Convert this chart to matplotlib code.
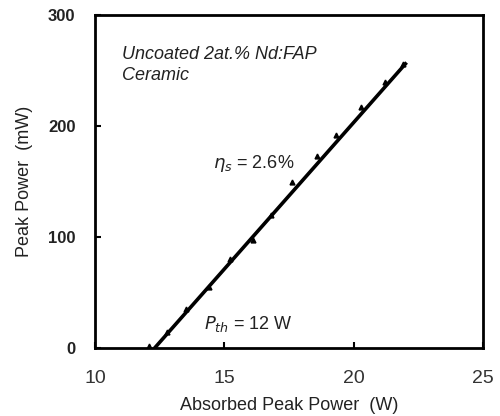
import matplotlib.pyplot as plt

# measured points (absorbed peak power W, peak power mW)
absorbed = [12.1, 12.8, 13.5, 14.4, 15.2, 16.1, 16.8, 17.6, 18.6, 19.3, 20.3, 21.2, 21.9]
peak = [2, 15, 35, 55, 80, 97, 120, 150, 173, 192, 217, 240, 256]

# linear fit endpoints
fit_x = [12.3, 22.0]
fit_y = [0, 256]

xticks = [10, 15, 20, 25]
yticks = [0, 100, 200, 300]

plt.rcParams['font.family'] = ['Liberation Sans', 'DejaVu Sans']

fig = plt.figure(figsize=(5, 4.16), dpi=100)
ax = fig.add_axes([0.19, 0.163, 0.776, 0.801])

ax.plot(fit_x, fit_y, color='black', lw=2.6, zorder=2)
ax.plot(absorbed, peak, linestyle='none', marker='^', ms=3.5, color='black', zorder=3)

ax.set_xlim(10, 25)
ax.set_ylim(0, 300)
ax.set_xticks(xticks)
ax.set_yticks(yticks)
ax.set_xticklabels([str(t) for t in xticks], fontsize=14, color='#333333')
ax.set_yticklabels([str(t) for t in yticks], fontsize=12, fontweight='bold', color='#222222')
ax.tick_params(direction='in', length=4, width=1.5)
ax.tick_params(axis='y', pad=14)
ax.tick_params(axis='x', pad=16)
for s in ax.spines.values():
    s.set_linewidth(2)

ax.set_xlabel('Absorbed Peak Power  (W)', fontsize=13, labelpad=7, color='#222222')
ax.set_ylabel('Peak Power  (mW)', fontsize=13, labelpad=11, color='#222222')

ax.text(11.05, 255, 'Uncoated 2at.% Nd:FAP\nCeramic', fontsize=13, style='italic',
        va='center', ha='left', color='#222222', linespacing=1.35)
ax.text(14.55, 166, r'$\eta_s$ = 2.6%', fontsize=13, va='center', ha='left', color='#222222')
ax.text(14.2, 22, r'$P_{th}$ = 12 W', fontsize=13, va='center', ha='left', color='#222222')

fig.savefig('out.png', dpi=100)
